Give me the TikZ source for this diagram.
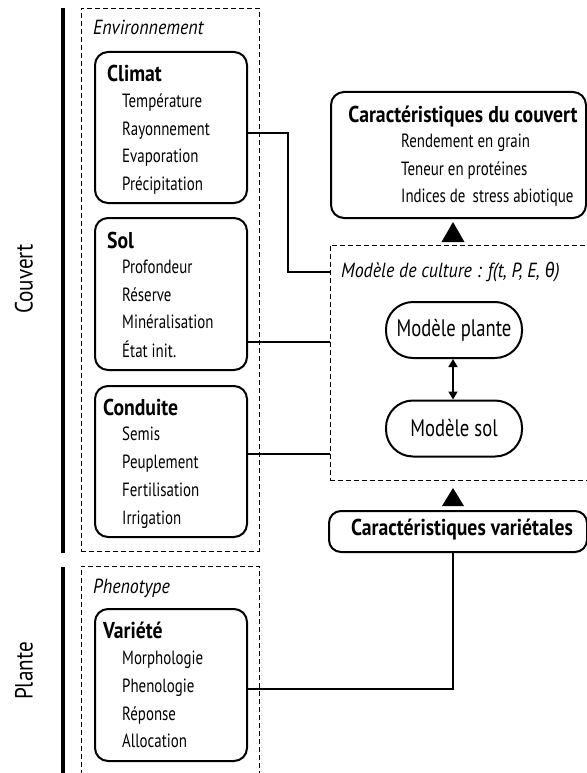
\documentclass[tikz,border=0pt]{standalone}
\usepackage{fontspec}
\setmainfont[FakeStretch=0.78]{PT Sans}
\newfontfamily\titlef[FakeStretch=0.86]{PT Sans}
\newfontfamily\italf[FakeStretch=0.88]{PT Sans}
\newfontfamily\sidef[FakeStretch=0.85]{PT Sans}
\newfontfamily\greekf[FakeStretch=0.85]{Fira Sans}
\usetikzlibrary{arrows.meta,calc}
\newcommand\itemfont{\fontsize{19.2}{21}\selectfont}
\newcommand\titlefont{\titlef\fontsize{23}{25}\selectfont\bfseries}
\newcommand\grpfont{\italf\fontsize{20.5}{22}\selectfont\itshape}
\newcommand\modfont{\fontsize{24}{26}\selectfont}
\newcommand\sidefont{\sidef\fontsize{25}{27}\selectfont}
\begin{document}
\begin{tikzpicture}[x=1bp,y=-1bp,
  envbox/.style={draw,dashed,dash pattern=on 5bp off 3bp,line width=0.8bp},
  catbox/.style={draw,line width=2bp,rounded corners=13bp,inner sep=0pt},
  modbox/.style={draw,line width=2bp,rounded corners=27bp,minimum width=136bp,minimum height=56bp,inner sep=0pt,font=\modfont},
  ttl/.style={anchor=base west,inner sep=0pt,font=\titlefont},
  itm/.style={anchor=base west,inner sep=0pt,font=\itemfont},
  grp/.style={anchor=base west,inner sep=0pt,font=\grpfont},
  bar/.style={line width=4.5bp},
  conn/.style={line width=2bp},
  tri/.style={fill=black}]
\useasboundingbox (0,0) rectangle (587,773);
\clip (0,0) rectangle (587,773);
% side bars
\draw[bar] (63,8) -- (63,553);
\draw[bar] (63,567) -- (63,780);
\node[rotate=90,font=\sidefont,inner sep=0pt] (couvert) at (24,279) {Couvert};
\node[rotate=90,font=\sidefont,inner sep=0pt] (plante) at (24,671) {Plante};
% environment group
\node[envbox,minimum width=178bp,minimum height=543bp,inner sep=0pt] (env) at (170,279.5) {};
\node[grp] (envt) at (93,35) {Environnement};
\node[catbox,minimum width=152bp,minimum height=151bp] (climat) at (171,127.5) {};
\node[ttl] (climatt) at (107,81) {Climat};
\node[itm] (c1) at (122,107) {Température};
\node[itm] (c2) at (122,135) {Rayonnement};
\node[itm] (c3) at (122,162) {Evaporation};
\node[itm] (c4) at (122,190) {Précipitation};
\node[catbox,minimum width=152bp,minimum height=152bp] (sol) at (171,294) {};
\node[ttl] (solt) at (107,248) {Sol};
\node[itm] (s1) at (122,273) {Profondeur};
\node[itm] (s2) at (122,301) {Réserve};
\node[itm] (s3) at (122,328) {Minéralisation};
\node[itm] (s4) at (122,357) {État init.};
\node[catbox,minimum width=152bp,minimum height=151bp] (conduite) at (171,461.5) {};
\node[ttl] (conduitet) at (103,415) {Conduite};
\node[itm] (d1) at (122,440) {Semis};
\node[itm] (d2) at (122,468) {Peuplement};
\node[itm] (d3) at (122,496) {Fertilisation};
\node[itm] (d4) at (122,524) {Irrigation};
% phenotype group
\node[envbox,minimum width=178bp,minimum height=240bp,inner sep=0pt] (pheno) at (170,686) {};
\node[grp] (phenot) at (93,593) {Phenotype};
\node[catbox,minimum width=152bp,minimum height=152bp] (variete) at (171,685) {};
\node[ttl] (varietet) at (103,638) {Variété};
\node[itm] (v1) at (122,664) {Morphologie};
\node[itm] (v2) at (122,692) {Phenologie};
\node[itm] (v3) at (122,720) {Réponse};
\node[itm] (v4) at (122,747) {Allocation};
% right side
\node[catbox,minimum width=255bp,minimum height=126bp] (couv) at (458.5,155) {};
\node[anchor=base,inner sep=0pt,font=\titlefont] (couvt) at (463,122) {Caractéristiques du couvert};
\node[itm] (r1) at (401,147) {Rendement en grain};
\node[itm] (r2) at (401,175) {Teneur en protéines};
\node[itm] (r3) at (401,202) {Indices de\, stress abiotique};
\node[envbox,minimum width=262bp,minimum height=235bp,inner sep=0pt] (mc) at (461,362.5) {};
\node[grp] (mct) at (341,277) {Modèle de culture : f(t, P, E, {\greekf\itshape θ})};
\node[modbox] (mp) at (454,330) {Modèle plante};
\node[modbox] (ms) at (454,428.5) {Modèle sol};
\node[catbox,minimum width=258bp,minimum height=41bp,rounded corners=12bp] (var) at (458,531.5) {};
\node[anchor=base,inner sep=0pt,font=\titlefont] (vart) at (462,535) {Caractéristiques variétales};
% triangles
\fill[tri] (453,222) -- (464.5,242) -- (441.5,242) -- cycle;
\fill[tri] (453,488) -- (464,506) -- (442,506) -- cycle;
% double arrow
\draw[line width=1.5bp,{Triangle[width=9bp,length=8bp]}-{Triangle[width=9bp,length=8bp]}] (mp.south -| 453,0) -- (ms.north -| 453,0);
% connectors
\draw[conn] (climat.east |- 0,133) -- (288,133) -- (288,272) -- (mc.west |- 0,272);
\draw[conn] (sol.east |- 0,342) -- (mc.west |- 0,342);
\draw[conn] (conduite.east |- 0,454) -- (mc.west |- 0,454);
\draw[conn] (variete.east |- 0,689) -- (453,689) -- (var.south -| 453,0);
\end{tikzpicture}
\end{document}
